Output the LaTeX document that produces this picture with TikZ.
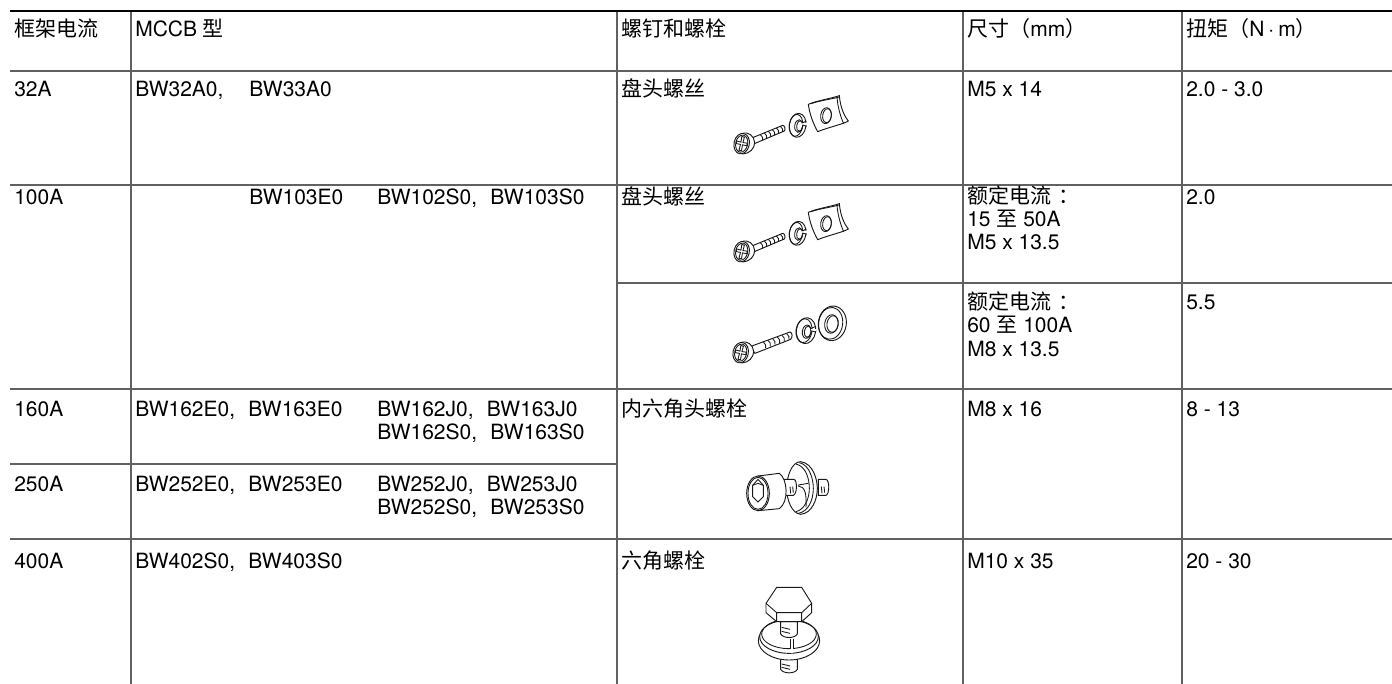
\documentclass[tikz,border=0pt]{standalone}
\usepackage{fontspec}
\setmainfont{TeX Gyre Heros}
\newfontfamily\cjk{Noto Sans CJK SC}
\newcommand{\zgap}{\hspace{19.5pt}}
\newcommand{\ygap}{\hspace{10pt}}
\newcommand{\ratedlabel}{{\cjk 额定电流\hspace{5.5pt}：}}
\tikzset{
  rulegray/.style={draw=black!62,line width=1.2pt},
  rulehead/.style={draw=black,line width=2.2pt},
  part/.style={draw=black!90,line width=.7pt,fill=white},
  partline/.style={draw=black!90,line width=.65pt},
  cell/.style={anchor=base west,inner sep=0pt,font=\fontsize{15.75}{18}\selectfont,text=black},
  crop/.style={x=.25pt,y=-.25pt}
}
\newcommand{\panhead}{%
  \draw[part] (122,128) .. controls (142,120) and (160,135) .. (161,155) .. controls (161,172) and (146,188) .. (125,189);
  \draw[part,rotate around={-12:(122,158)}] (122,158) ellipse (23 and 31);
  \draw[partline,rotate around={-12:(122,158)}] (122,158) ellipse (18 and 26);
  \draw[partline,rotate around={-12:(122,158)}] (118,137)--(126,137)--(125,154)--(138,153)--(138,161)--(125,161)--(126,179)--(118,179)--(119,161)--(106,161)--(106,153)--(119,154)--cycle;
}
\newcommand{\screwplate}[2]{%
  \begin{scope}[shift={(#1,#2)},crop]
    \draw[part] (150,142)--(245,103) .. controls (252,103) and (254,116) .. (250,120)--(160,158)--cycle;
    \foreach \i in {0,...,5}{\draw[partline] (178+\i*12,131-\i*5) .. controls (184+\i*12,135-\i*5) and (187+\i*12,142-\i*5) .. (185+\i*12,148-\i*5);}
    \panhead
    % lock washer
    \draw[part,rotate around={-8:(290,103)}] (290,103) ellipse (25 and 36);
    \draw[partline,rotate around={-8:(285,103)}] (285,103) ellipse (20 and 33);
    \draw[partline,rotate around={-8:(293,105)}] (293,105) ellipse (12 and 19);
    \draw[partline,rotate around={-8:(296,105)}] (296,105) ellipse (9 and 16);
    \fill[white] (304,96) rectangle (318,102);
    \draw[partline] (304,96)--(316,90) (304,102)--(317,106);
    % plate
    \draw[part] (322,40) .. controls (350,28) and (385,24) .. (415,14) .. controls (418,50) and (430,75) .. (442,90) .. controls (425,100) and (385,108) .. (350,122) .. controls (335,95) and (325,65) .. (322,40) -- cycle;
    \draw[partline] (408,18) .. controls (410,50) and (420,80) .. (428,98);
    \draw[partline] (330,38) .. controls (360,28) and (385,26) .. (414,18);
    \draw[partline,rotate around={-8:(375,74)}] (375,74) ellipse (16 and 24);
    \draw[partline,rotate around={-8:(378,74)}] (378,74) ellipse (13 and 21);
  \end{scope}}
\begin{document}
\begin{tikzpicture}[x=.75pt,y=-.75pt]
\useasboundingbox (0,0) rectangle (1392,684);
% rules
\draw[rulegray] (131,11)--(131,684) (617,11)--(617,684) (963,11)--(963,684) (1182,11)--(1182,684);
\draw[rulegray] (10,71)--(1392,71) (10,185)--(1392,185) (617,283)--(1392,283) (10,389)--(1392,389) (10,464)--(617,464) (10,539)--(1392,539);
\draw[rulehead] (10,11)--(1392,11);
% header
\node[cell] (h1) at (14,37) {\cjk 框架电流};
\node[cell] (h2) at (135,37) {MCCB {\cjk 型}};
\node[cell] (h3) at (621,37) {\cjk 螺钉和螺栓};
\node[cell] (h4) at (967,37) {{\cjk 尺寸（}mm{\cjk ）}};
\node[cell] (h5) at (1186,37) {{\cjk 扭矩（}N\hspace{3pt}·\hspace{3pt}m{\cjk ）}};
% 32A
\node[cell] (a1) at (14,97) {32A};
\node[cell] (a2) at (135,97) {BW32A0,\zgap BW33A0};
\node[cell] (a3) at (621,97) {\cjk 盘头螺丝};
\node[cell] (a4) at (967,97) {M5 x 14};
\node[cell] (a5) at (1186,97) {2.0 - 3.0};
% 100A
\node[cell] (b1) at (14,205) {100A};
\node[cell] (b2) at (249,205) {BW103E0};
\node[cell] (b3) at (377,205) {BW102S0,\ygap BW103S0};
\node[cell] (b4) at (621,205) {\cjk 盘头螺丝};
\node[cell] (b5) at (967,204) {\ratedlabel};
\node[cell] (b6) at (967,227) {15 {\cjk 至} 50A};
\node[cell] (b7) at (967,250) {M5 x 13.5};
\node[cell] (b8) at (1186,205) {2.0};
\node[cell] (c5) at (967,310) {\ratedlabel};
\node[cell] (c6) at (967,333) {60 {\cjk 至} 100A};
\node[cell] (c7) at (967,356) {M8 x 13.5};
\node[cell] (c8) at (1186,310) {5.5};
% 160A
\node[cell] (d1) at (14,416) {160A};
\node[cell] (d2) at (135,416) {BW162E0,\ygap BW163E0};
\node[cell] (d3) at (377,416) {BW162J0,\ygap BW163J0};
\node[cell] (d4) at (377,439) {BW162S0,\ygap BW163S0};
\node[cell] (d5) at (621,416) {\cjk 内六角头螺栓};
\node[cell] (d6) at (967,416) {M8 x 16};
\node[cell] (d7) at (1186,416) {8 - 13};
% 250A
\node[cell] (e1) at (14,491) {250A};
\node[cell] (e2) at (135,491) {BW252E0,\ygap BW253E0};
\node[cell] (e3) at (377,491) {BW252J0,\ygap BW253J0};
\node[cell] (e4) at (377,514) {BW252S0,\ygap BW253S0};
% 400A
\node[cell] (f1) at (14,568) {400A};
\node[cell] (f2) at (135,568) {BW402S0,\ygap BW403S0};
\node[cell] (f3) at (621,568) {\cjk 六角螺栓};
\node[cell] (f4) at (967,568) {M10 x 35};
\node[cell] (f5) at (1186,568) {20 - 30};
% screws with plate
\screwplate{701}{91}
\screwplate{701}{199}
% screw with washers
\begin{scope}[shift={(700,300)},crop]
  \draw[part] (150,140)--(270,96) .. controls (278,98) and (278,112) .. (272,118)--(165,160)--cycle;
  \foreach \i in {0,...,5}{\draw[partline] (190+\i*14,126-\i*5) .. controls (196+\i*14,130-\i*5) and (199+\i*14,138-\i*5) .. (197+\i*14,144-\i*5);}
  \panhead
  \draw[part,rotate around={-8:(318,92)}] (318,92) ellipse (29 and 39);
  \draw[partline,rotate around={-8:(312,92)}] (312,92) ellipse (24 and 36);
  \draw[partline,rotate around={-8:(320,95)}] (320,95) ellipse (13 and 20);
  \draw[partline,rotate around={-8:(323,95)}] (323,95) ellipse (10 and 17);
  \fill[white] (332,86) rectangle (348,92);
  \draw[partline] (332,86)--(345,80) (332,92)--(346,96);
  \draw[part,rotate around={-8:(397,70)}] (397,70) ellipse (42 and 52);
  \draw[partline,rotate around={-8:(392,70)}] (392,70) ellipse (36 and 48);
  \draw[partline,rotate around={-8:(394,72)}] (394,72) ellipse (20 and 28);
  \draw[partline,rotate around={-8:(398,72)}] (398,72) ellipse (17 and 25);
\end{scope}
% socket bolt
\begin{scope}[shift={(730,470)},crop]
  \draw[part] (265,28) -- (288,28) .. controls (299,30) and (299,72) .. (288,76) -- (265,76) -- cycle;
  \draw[partline] (274,50) -- (276,70) (282,50) -- (284,68);
  \draw[part] (212,-25) .. controls (250,-20) and (262,30) .. (262,55) .. controls (262,90) and (245,130) .. (212,133) .. controls (185,130) and (170,90) .. (170,55) .. controls (170,20) and (185,-25) .. (212,-25) -- cycle;
  \draw[partline] (208,-22) .. controls (240,-15) and (250,30) .. (250,55) .. controls (250,90) and (235,125) .. (205,130);
  \draw[partline] (198,-18) .. controls (230,-10) and (238,30) .. (238,55) .. controls (238,85) and (225,118) .. (198,125);
  \draw[part] (160,28) -- (192,28) .. controls (202,30) and (202,72) .. (190,76) -- (160,76);
  \draw[partline] (180,50) -- (182,70) (188,50) -- (190,68);
  \draw[partline] (205,45) -- (235,40) (205,48) .. controls (225,50) and (230,70) .. (228,112);
  \draw[part] (84,18) -- (148,10) .. controls (172,25) and (178,95) .. (148,116) -- (84,122) -- cycle;
  \draw[part] (84,70) ellipse (34 and 52);
  \draw[partline] (84,70) ellipse (30 and 48);
  \draw[partline] (84,28)--(100,46)--(100,80)--(84,96)--(68,80)--(68,46)--cycle;
  \draw[partline] (68,46)--(84,40)--(100,46);
\end{scope}
% hex bolt
\begin{scope}[shift={(740,590)},crop]
  \draw[part] (122,205) -- (122,238) .. controls (130,252) and (165,252) .. (172,238) -- (172,205) -- cycle;
  \draw[partline] (125,222) -- (150,228) (125,232) -- (150,238);
  \draw[part] (147,152) ellipse (92 and 58);
  \draw[part] (147,140) ellipse (88 and 50);
  \draw[partline] (147,132) ellipse (82 and 44);
  \draw[part] (122,95) -- (122,132) .. controls (130,146) and (165,146) .. (172,132) -- (172,95) -- cycle;
  \draw[partline] (125,112) -- (150,118) (125,124) -- (150,130);
  \draw[part] (78,40) -- (110,-8) -- (185,-8) -- (215,40) -- (215,68) -- (185,95) -- (110,95) -- (78,68) -- cycle;
  \draw[partline] (78,40) -- (110,68) -- (185,68) -- (215,40) (110,68) -- (110,95) (185,68) -- (185,95);
  \fill[white] (150,146) rectangle (160,190);
  \draw[partline] (150,146) -- (150,178) (160,146) -- (160,178);
\end{scope}
\end{tikzpicture}
\end{document}
